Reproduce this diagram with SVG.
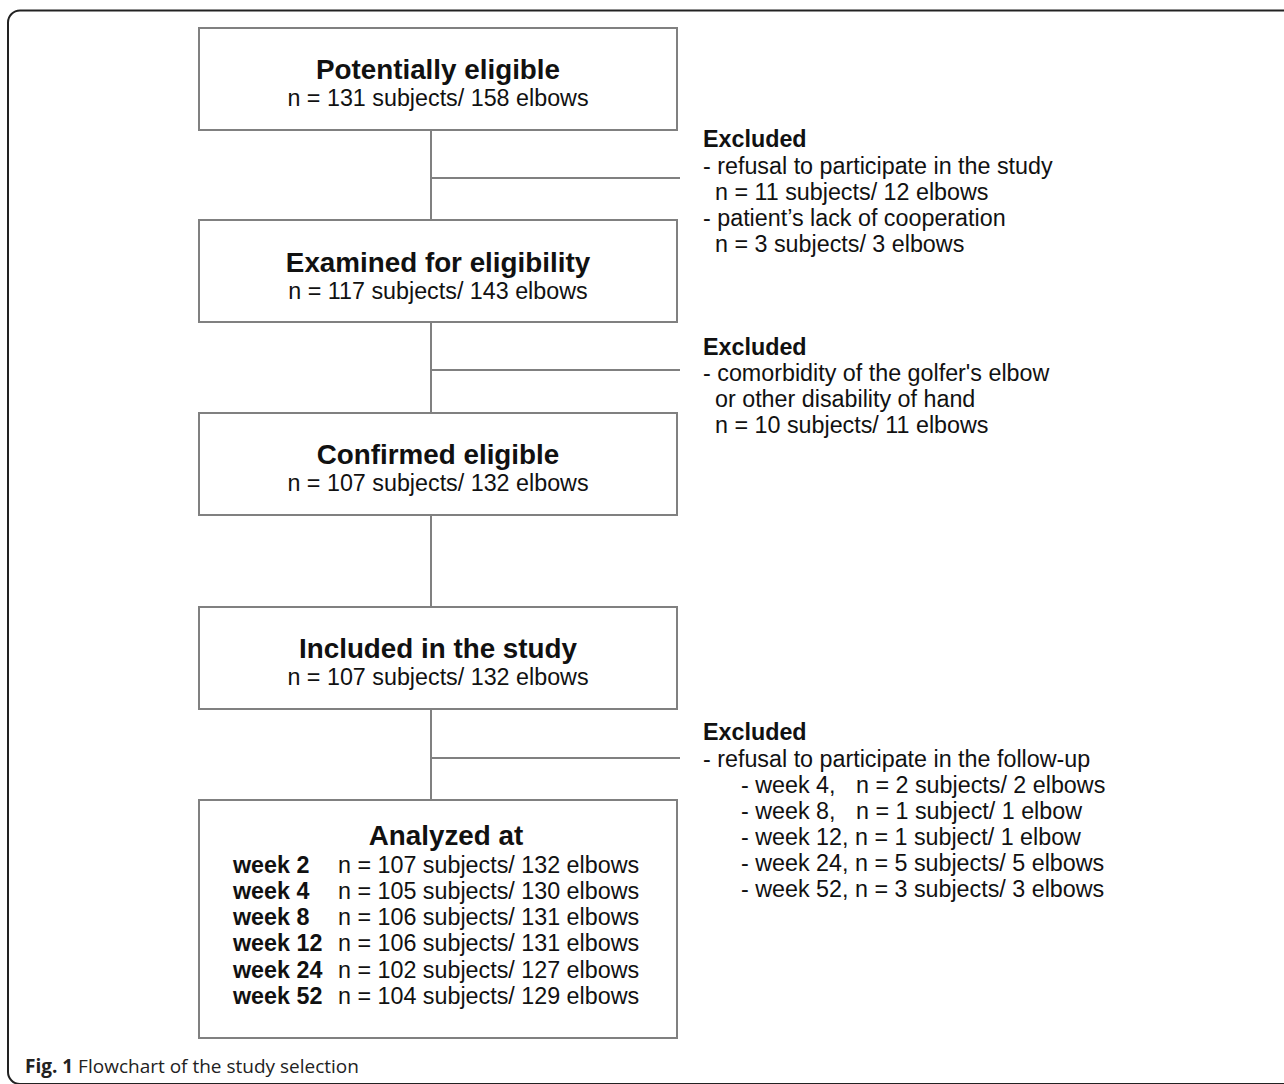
<svg xmlns="http://www.w3.org/2000/svg" width="1284" height="1084" viewBox="0 0 1284 1084">
<style>
.box{fill:#fff;stroke:#808080;stroke-width:2}
.ln{stroke:#808080;stroke-width:2;fill:none}
text{font-family:"Liberation Sans",Arial,sans-serif;fill:#111}
.t{font-size:27.8px;font-weight:bold;text-anchor:middle}
.s{font-size:23.3px;text-anchor:middle}
.e{font-size:23.3px}
.b{font-weight:bold}
.cap{font-family:"Open Sans",sans-serif;font-size:19px;fill:#222}
</style>
<rect width="1284" height="1084" fill="#fff"/>
<path d="M1290,10.5 H20 A12,12 0 0 0 8,22.5 V1072 A12,12 0 0 0 20,1084 H1290" fill="none" stroke="#222" stroke-width="2"/>
<g id="connectors">
<line class="ln" x1="431" y1="130" x2="431" y2="220"/>
<line class="ln" x1="431" y1="178" x2="680" y2="178"/>
<line class="ln" x1="431" y1="322" x2="431" y2="413"/>
<line class="ln" x1="431" y1="370" x2="680" y2="370"/>
<line class="ln" x1="431" y1="515" x2="431" y2="607"/>
<line class="ln" x1="431" y1="709" x2="431" y2="800"/>
<line class="ln" x1="431" y1="758" x2="680" y2="758"/>
</g>
<g id="n1">
<rect class="box" x="199" y="28" width="478" height="102"/>
<text class="t" x="438" y="79">Potentially eligible</text>
<text class="s" x="438" y="106">n = 131 subjects/ 158 elbows</text>
</g>
<g id="n2">
<rect class="box" x="199" y="220" width="478" height="102"/>
<text class="t" x="438" y="272">Examined for eligibility</text>
<text class="s" x="438" y="299">n = 117 subjects/ 143 elbows</text>
</g>
<g id="n3">
<rect class="box" x="199" y="413" width="478" height="102"/>
<text class="t" x="438" y="464">Confirmed eligible</text>
<text class="s" x="438" y="491">n = 107 subjects/ 132 elbows</text>
</g>
<g id="n4">
<rect class="box" x="199" y="607" width="478" height="102"/>
<text class="t" x="438" y="658">Included in the study</text>
<text class="s" x="438" y="685">n = 107 subjects/ 132 elbows</text>
</g>
<g id="n5">
<rect class="box" x="199" y="800" width="478" height="238"/>
<text class="t" x="446" y="845">Analyzed at</text>
<text class="e b" x="233" y="873">week 2</text><text class="e" x="338" y="873">n = 107 subjects/ 132 elbows</text>
<text class="e b" x="233" y="899">week 4</text><text class="e" x="338" y="899">n = 105 subjects/ 130 elbows</text>
<text class="e b" x="233" y="925">week 8</text><text class="e" x="338" y="925">n = 106 subjects/ 131 elbows</text>
<text class="e b" x="233" y="951">week 12</text><text class="e" x="338" y="951">n = 106 subjects/ 131 elbows</text>
<text class="e b" x="233" y="978">week 24</text><text class="e" x="338" y="978">n = 102 subjects/ 127 elbows</text>
<text class="e b" x="233" y="1004">week 52</text><text class="e" x="338" y="1004">n = 104 subjects/ 129 elbows</text>
</g>
<g id="ex1">
<text class="e b" x="703" y="147">Excluded</text>
<text class="e" x="703" y="174">- refusal to participate in the study</text>
<text class="e" x="715" y="200">n = 11 subjects/ 12 elbows</text>
<text class="e" x="703" y="226">- patient’s lack of cooperation</text>
<text class="e" x="715" y="252">n = 3 subjects/ 3 elbows</text>
</g>
<g id="ex2">
<text class="e b" x="703" y="355">Excluded</text>
<text class="e" x="703" y="381">- comorbidity of the golfer's elbow</text>
<text class="e" x="715" y="407">or other disability of hand</text>
<text class="e" x="715" y="433">n = 10 subjects/ 11 elbows</text>
</g>
<g id="ex3">
<text class="e b" x="703" y="740">Excluded</text>
<text class="e" x="703" y="767">- refusal to participate in the follow-up</text>
<text class="e" x="741" y="793">- week 4,<tspan x="856">n = 2 subjects/ 2 elbows</tspan></text>
<text class="e" x="741" y="819">- week 8,<tspan x="856">n = 1 subject/ 1 elbow</tspan></text>
<text class="e" x="741" y="845">- week 12, n = 1 subject/ 1 elbow</text>
<text class="e" x="741" y="871">- week 24, n = 5 subjects/ 5 elbows</text>
<text class="e" x="741" y="897">- week 52, n = 3 subjects/ 3 elbows</text>
</g>
<text class="cap" x="25" y="1073"><tspan font-weight="bold">Fig. 1</tspan> Flowchart of the study selection</text>
</svg>
